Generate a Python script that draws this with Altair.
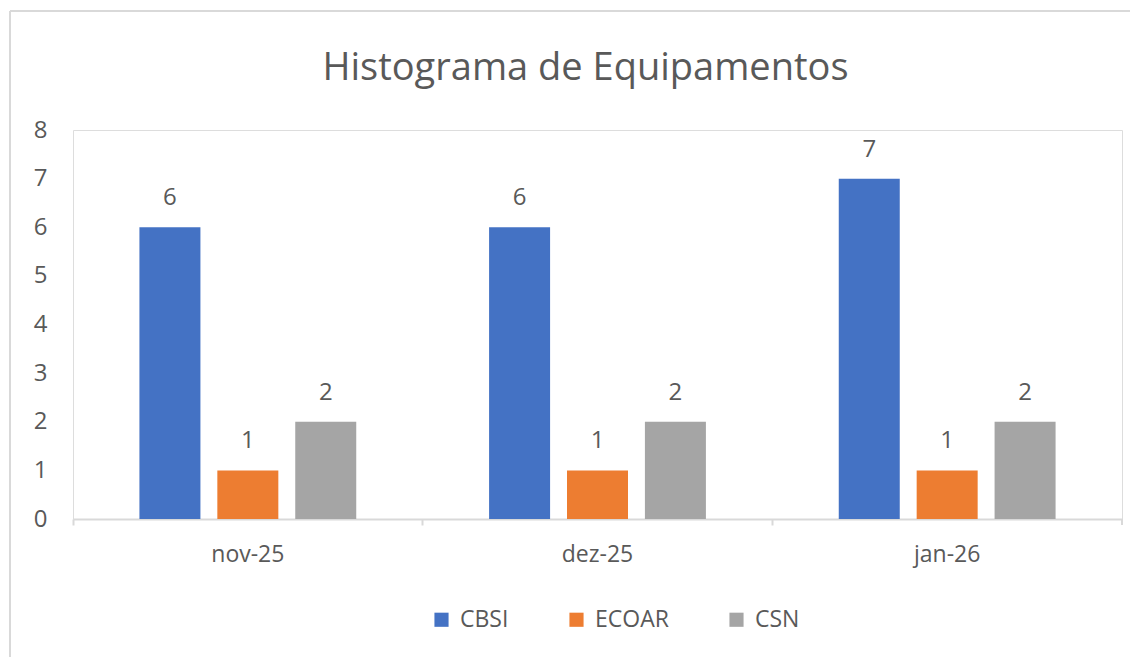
import altair as alt
import pandas as pd

meses = ["nov-25", "dez-25", "jan-26"]
series = ["CBSI", "ECOAR", "CSN"]
cbsi = [6, 6, 7]
ecoar = [1, 1, 1]
csn = [2, 2, 2]
cores = ["#4472C4", "#ED7D31", "#A5A5A5"]
y_ticks = [0, 1, 2, 3, 4, 5, 6, 7, 8]

rows = []
for s, vals in zip(series, [cbsi, ecoar, csn]):
    for m, v in zip(meses, vals):
        rows.append({"mes": m, "serie": s, "valor": v})
df = pd.DataFrame(rows)

FONT = "Open Sans"
TXT = "#595959"
GRID = "#D9D9D9"
W, H = 1049, 389

base = alt.Chart(df)

bars = base.mark_bar(size=61).encode(
    x=alt.X("mes:N", sort=meses, title=None,
            scale=alt.Scale(paddingInner=0, paddingOuter=0),
            axis=alt.Axis(labelAngle=0, bandPosition=0, domainColor=GRID, domainWidth=2,
                          tickColor=GRID, tickWidth=2, tickSize=6, labelPadding=18,
                          labelFontSize=23, labelColor=TXT, labelFont=FONT)),
    xOffset=alt.XOffset("serie:N", sort=series,
                        scale=alt.Scale(paddingInner=0.218, paddingOuter=0.853)),
    y=alt.Y("valor:Q", title=None,
            scale=alt.Scale(domain=[0, 8], nice=False),
            axis=alt.Axis(values=y_ticks, grid=False, domain=False, ticks=False,
                          labelPadding=26, labelFontSize=24, labelColor=TXT, labelFont=FONT)),
    color=alt.Color("serie:N", sort=series,
                    scale=alt.Scale(domain=series, range=cores),
                    legend=alt.Legend(title=None, orient="none", direction="horizontal",
                                      legendX=357, legendY=478, symbolType="square",
                                      symbolSize=200, symbolStrokeWidth=0, labelFontSize=23,
                                      labelColor=TXT, labelFont=FONT, columnPadding=56,
                                      labelOffset=7)),
)

labels = base.mark_text(baseline="bottom", dy=-17, fontSize=24, color=TXT, font=FONT).encode(
    x=alt.X("mes:N", sort=meses),
    xOffset=alt.XOffset("serie:N", sort=series),
    y=alt.Y("valor:Q"),
    text=alt.Text("valor:Q"),
)

end_tick = alt.Chart(df).mark_rule(color=GRID, strokeWidth=2).encode(
    x=alt.value(W), y=alt.value(H), y2=alt.value(H + 6)
)
border_top = alt.Chart(df).mark_rule(color=GRID, strokeWidth=2).encode(
    x=alt.value(-63), x2=alt.value(W + 10), y=alt.value(-119)
)
border_left = alt.Chart(df).mark_rule(color=GRID, strokeWidth=2).encode(
    x=alt.value(-63), y=alt.value(-119), y2=alt.value(H + 140)
)

chart = alt.layer(border_top, border_left, bars, labels, end_tick).properties(
    width=W, height=H,
    title=alt.TitleParams("Histograma de Equipamentos", fontSize=38, font=FONT,
                          color=TXT, fontWeight="normal", anchor="middle", dx=-12,
                          baseline="alphabetic", offset=-108),
    autosize=alt.AutoSizeParams(type="none"),
    padding={"left": 65, "top": 122, "right": 8, "bottom": 138},
).configure_view(stroke=None).configure(background="white")

chart.save("out.html", embed_options={"renderer": "svg", "actions": False})
